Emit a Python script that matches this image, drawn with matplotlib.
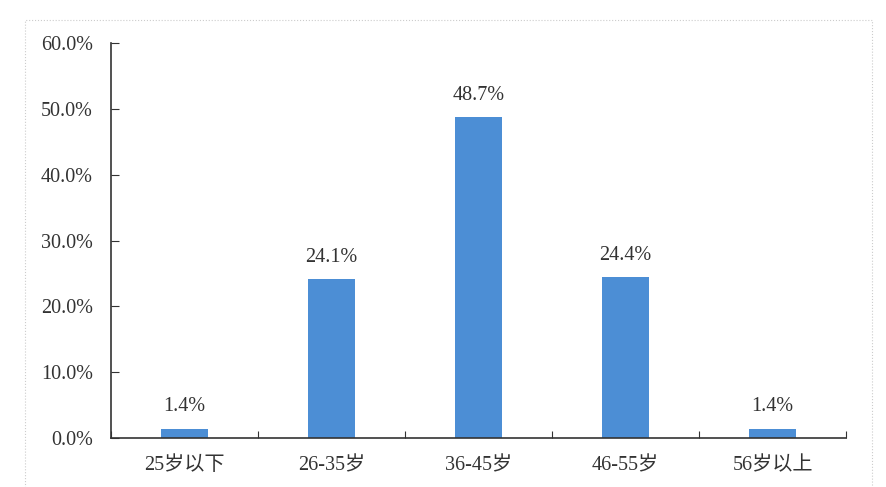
import numpy as np
import matplotlib.pyplot as plt
from matplotlib.ticker import FuncFormatter
from matplotlib.patches import Rectangle

plt.rcParams['font.family'] = ['Liberation Serif', 'Noto Sans CJK SC']

# 年龄段分布
categories = ['25岁以下', '26-35岁', '36-45岁', '46-55岁', '56岁以上']
values = [1.4, 24.1, 48.7, 24.4, 1.4]

fig = plt.figure(figsize=(8.86, 4.87), dpi=100)
ax = fig.add_axes([111 / 886, 1 - 438 / 487, (846 - 111) / 886, (438 - 43) / 487])

x = np.arange(len(categories))
bars = ax.bar(x, values, width=0.32, color='#4C8ED5')

for b, v in zip(bars, values):
    ax.annotate(f'{v:.1f}%', (b.get_x() + b.get_width() / 2, v),
                xytext=(0, 16), textcoords='offset points',
                ha='center', va='center', fontsize=14.5, color='#333333')

ax.set_xlim(-0.5, len(categories) - 0.5)
ax.set_ylim(0, 60)
ax.set_yticks(np.arange(0, 61, 10))
ax.yaxis.set_major_formatter(FuncFormatter(lambda v, p: f'{v:.1f}%'))

# 分类之间的刻度
ax.set_xticks(np.arange(-0.5, len(categories), 1))
ax.set_xticklabels([])
ax.set_xticks(x, minor=True)
ax.set_xticklabels(categories, minor=True)
ax.tick_params(axis='x', which='minor', length=0, pad=13, labelsize=14.5, labelcolor='#333333')
ax.tick_params(axis='x', which='major', direction='in', length=5, color='#333333')
ax.tick_params(axis='y', direction='in', length=6, pad=13, labelsize=14.5,
               labelcolor='#333333', color='#333333')

for s in ['top', 'right']:
    ax.spines[s].set_visible(False)
for s in ['left', 'bottom']:
    ax.spines[s].set_color('#333333')
    ax.spines[s].set_linewidth(1.2)

# 外框虚线
fig.patches.append(Rectangle((25 / 886, -0.01), (872 - 25) / 886, 1 - 20 / 487 + 0.01,
                             transform=fig.transFigure, fill=False,
                             edgecolor='#cccccc', linestyle=':', linewidth=0.8))

fig.savefig('out.png', dpi=100)
